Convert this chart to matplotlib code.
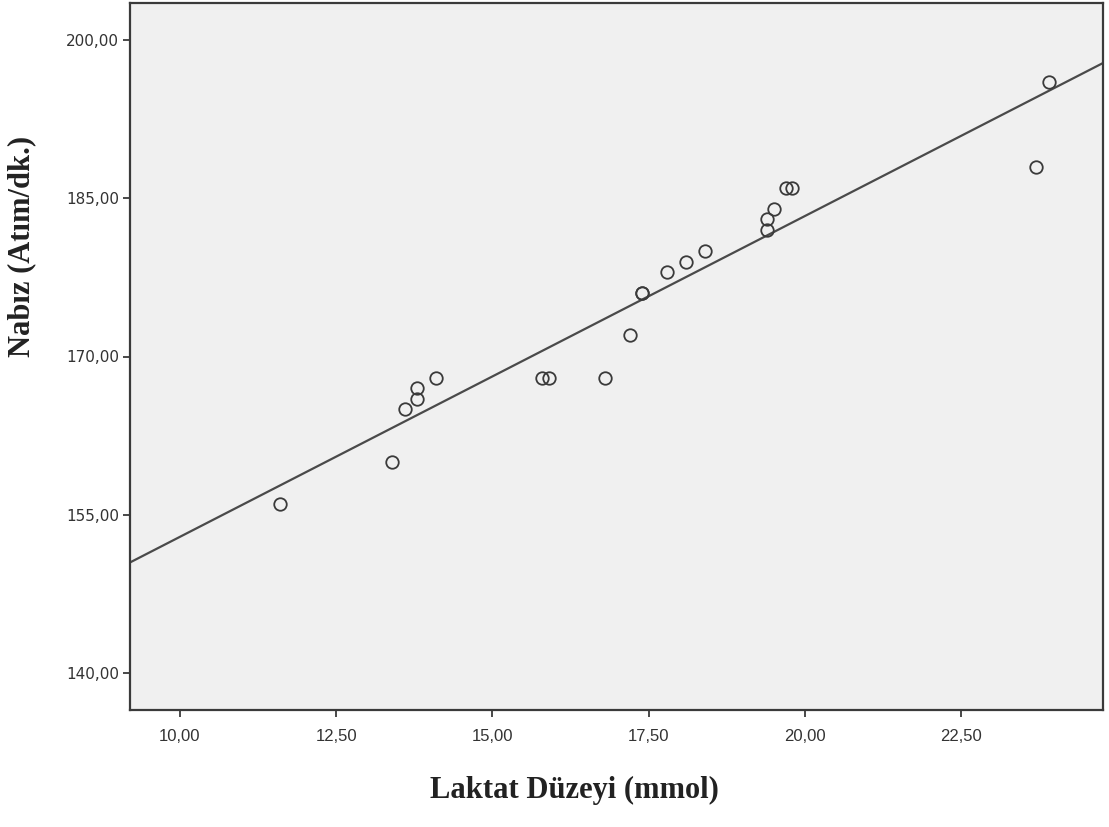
import numpy as np
import matplotlib
matplotlib.use("Agg")
import matplotlib.pyplot as plt
from matplotlib.ticker import FuncFormatter

laktat = [11.6, 13.4, 13.6, 13.8, 13.8, 14.1, 15.8, 15.9, 16.8, 17.2, 17.4, 17.4,
          17.8, 18.1, 18.4, 19.4, 19.4, 19.5, 19.7, 19.8, 23.7, 23.9]
nabiz = [156, 160, 165, 166, 167, 168, 168, 168, 168, 172, 176, 176,
         178, 179, 180, 182, 183, 184, 186, 186, 188, 196]
x_ticks = [10.0, 12.5, 15.0, 17.5, 20.0, 22.5]
y_ticks = [140.0, 155.0, 170.0, 185.0, 200.0]

fig = plt.figure(figsize=(11.09, 8.27), dpi=100)
ax = fig.add_axes([130/1109, 1-710/827, (1103-130)/1109, (710-3)/827])
ax.set_facecolor('#F0F0F0')

xlim = (9.2, 24.77)
ax.set_xlim(*xlim)
ax.set_ylim(136.5, 203.5)

slope, intercept = np.polyfit(laktat, nabiz, 1)
xs = np.array(xlim)
ax.plot(xs, slope*xs + intercept, color='#4a4a4a', lw=1.6, zorder=2)

ax.plot(laktat, nabiz, linestyle='none', marker='o', markersize=9,
        markerfacecolor='none', markeredgecolor='#3a3a3a', markeredgewidth=1.3, zorder=3)

fmt = FuncFormatter(lambda v, p: f"{v:.2f}".replace('.', ','))
ax.set_xticks(x_ticks)
ax.set_yticks(y_ticks)
ax.xaxis.set_major_formatter(fmt)
ax.yaxis.set_major_formatter(fmt)
for s in ax.spines.values():
    s.set_color('#3a3a3a')
    s.set_linewidth(1.6)
ax.tick_params(axis='both', direction='out', length=5, width=1.3, color='#3a3a3a')
for lab in ax.get_xticklabels():
    lab.set_fontfamily('Liberation Sans')
    lab.set_fontsize(12)
    lab.set_color('#333333')
for lab in ax.get_yticklabels():
    lab.set_fontfamily('DejaVu Sans')
    lab.set_fontsize(11)
    lab.set_color('#333333')
ax.tick_params(axis='x', pad=9)
ax.tick_params(axis='y', pad=3)

fig.text(22/1109, 1-246/827, 'Nabız (Atım/dk.)', rotation=90, ha='center', va='center',
         fontfamily='Liberation Serif', fontweight='bold', fontsize=22, color='#222222')
fig.text(574/1109, 1-790/827, 'Laktat Düzeyi (mmol)', ha='center', va='center',
         fontfamily='Liberation Serif', fontweight='bold', fontsize=22, color='#222222')

fig.savefig('out.png', dpi=100, facecolor='white')
